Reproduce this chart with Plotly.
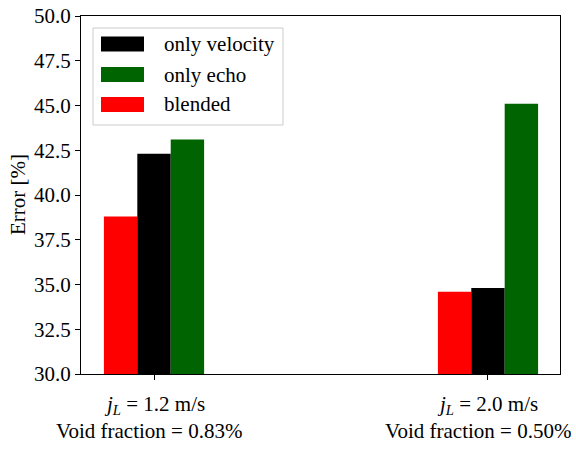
import plotly.graph_objects as go

group_line1 = ["<i>j<sub>L</sub></i> = 1.2 m/s", "<i>j<sub>L</sub></i> = 2.0 m/s"]
group_line2 = ["Void fraction = 0.83%", "Void fraction = 0.50%"]
series_names = ["blended", "only velocity", "only echo"]
blended = [38.8, 34.6]
only_velocity = [42.3, 34.8]
only_echo = [43.1, 45.1]
colors = {"blended": "#ff0000", "only velocity": "#000000", "only echo": "#006400"}
legend_order = ["only velocity", "only echo", "blended"]
yticks = [30.0, 32.5, 35.0, 37.5, 40.0, 42.5, 45.0, 47.5, 50.0]

FONT = "Liberation Serif"
FS = 21
W, H = 576, 450
L, R, T, B = 81, 560, 16, 374
line2_shift = [-5, -10]

values = {"blended": blended, "only velocity": only_velocity, "only echo": only_echo}
xpos = list(range(len(group_line1)))

fig = go.Figure()
for name in series_names:
    fig.add_trace(go.Bar(x=xpos, y=values[name], name=name,
                         marker=dict(color=colors[name], line=dict(width=0)),
                         base=0, showlegend=False))

def px_x(p):
    return (p - L) / (R - L)

def px_y(p):
    return (B - p) / (B - T)

shapes = []
annotations = []
# legend box
shapes.append(dict(type="rect", xref="paper", yref="paper",
                   x0=px_x(93), x1=px_x(283), y0=px_y(125), y1=px_y(28),
                   line=dict(color="#cccccc", width=1), fillcolor="rgba(255,255,255,0.8)",
                   layer="above"))
row_centers = [44, 74.5, 104.5]
for name, cy in zip(legend_order, row_centers):
    shapes.append(dict(type="rect", xref="paper", yref="paper",
                       x0=px_x(101), x1=px_x(144), y0=px_y(cy + 7.5), y1=px_y(cy - 7.5),
                       line=dict(width=0), fillcolor=colors[name], layer="above"))
    annotations.append(dict(xref="paper", yref="paper", x=px_x(162), y=px_y(cy),
                            text=name, showarrow=False, xanchor="left", yanchor="middle",
                            font=dict(family=FONT, size=FS, color="black")))

# x tick labels (two lines)
for xv, t1, t2, sh in zip(xpos, group_line1, group_line2, line2_shift):
    annotations.append(dict(xref="x", yref="paper", x=xv, y=px_y(405), text=t1,
                            showarrow=False, xanchor="center", yanchor="middle",
                            font=dict(family=FONT, size=FS, color="black")))
    annotations.append(dict(xref="x", yref="paper", x=xv, y=px_y(431), text=t2,
                            xshift=sh, showarrow=False, xanchor="center", yanchor="middle",
                            font=dict(family=FONT, size=FS, color="black")))
# y axis title
annotations.append(dict(xref="paper", yref="paper", x=px_x(18), y=px_y(195),
                        text="Error [%]", textangle=-90, showarrow=False,
                        xanchor="center", yanchor="middle",
                        font=dict(family=FONT, size=FS, color="black")))

fig.update_layout(
    width=W, height=H,
    margin=dict(l=L, r=W - R, t=T, b=H - B, pad=0, autoexpand=False),
    paper_bgcolor="white", plot_bgcolor="white",
    barmode="group", bargap=0.7, bargroupgap=0,
    font=dict(family=FONT, size=FS, color="black"),
    shapes=shapes, annotations=annotations,
    showlegend=False,
)
fig.update_xaxes(range=[-0.2186, 1.2156], tickvals=xpos, showticklabels=False,
                 showline=True, linecolor="black", linewidth=1, mirror=True,
                 ticks="outside", ticklen=5, tickcolor="black", showgrid=False,
                 zeroline=False, automargin=False)
fig.update_yaxes(range=[30, 50], tickvals=yticks, ticktext=[f"{v:.1f}" for v in yticks],
                 showline=True, linecolor="black", linewidth=1, mirror=True,
                 ticks="outside", ticklen=5, tickcolor="black", showgrid=False,
                 zeroline=False, tickfont=dict(family=FONT, size=FS), automargin=False)

fig.write_html("out.html", config={"displayModeBar": False},
               post_script="document.body.style.margin='0';document.body.style.padding='0';document.body.style.overflow='hidden';")
